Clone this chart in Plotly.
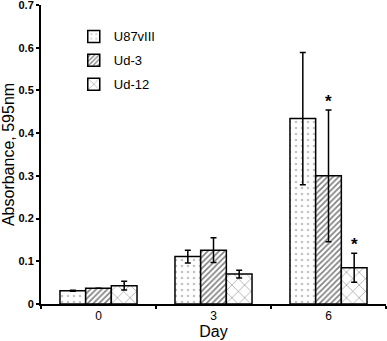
import plotly.graph_objects as go

days = ["0", "3", "6"]
series_names = ["U87vIII", "Ud-3", "Ud-12"]
u87 = [0.031, 0.111, 0.434]
u87_err = [0.001, 0.015, 0.155]
ud3 = [0.037, 0.126, 0.300]
ud3_err = [0.0, 0.029, 0.154]
ud12 = [0.043, 0.070, 0.085]
ud12_err = [0.010, 0.009, 0.034]
y_ticks = [0, 0.1, 0.2, 0.3, 0.4, 0.5, 0.6, 0.7]

patterns = [
    dict(shape=".", size=6, solidity=0.15, fgcolor="#888888", bgcolor="white"),
    dict(shape="/", size=4, solidity=0.4, fgcolor="black", bgcolor="white"),
    dict(shape="x", size=9, solidity=0.12, fgcolor="black", bgcolor="white"),
]

fig = go.Figure()
for i, (name, vals, errs) in enumerate(zip(series_names, [u87, ud3, ud12], [u87_err, ud3_err, ud12_err])):
    fig.add_trace(go.Bar(
        x=days, y=vals, name=name, legendgroup=name,
        marker=dict(color="white", line=dict(color="black", width=1.5), pattern=patterns[i]),
        error_y=dict(type="data", array=errs, visible=True, color="black", thickness=1.5, width=3),
    ))

# significance asterisks (Ud-3 and Ud-12 at day 6)
idx6 = days.index("6")
fig.add_annotation(x=idx6, xref="x", y=ud3[2] + ud3_err[2], xshift=0, yanchor="bottom", text="<b>*</b>",
                   showarrow=False, font=dict(size=17, color="black"), yshift=-3)
fig.add_annotation(x=idx6, xref="x", y=ud12[2] + ud12_err[2], xshift=25.7, yanchor="bottom", text="<b>*</b>",
                   showarrow=False, font=dict(size=17, color="black"), yshift=-3)

fig.update_layout(
    width=387, height=341,
    margin=dict(l=41, r=1, t=5, b=37, autoexpand=False),
    paper_bgcolor="white", plot_bgcolor="white",
    barmode="group", bargap=0.33, bargroupgap=0,
    font=dict(family="Liberation Sans, Arial", color="black"),
    showlegend=True,
    legend=dict(x=0.095, y=0.945, xanchor="left", yanchor="top", font=dict(size=13),
                bgcolor="rgba(0,0,0,0)", tracegroupgap=4, traceorder="grouped", itemwidth=30),
    xaxis=dict(
        type="category", range=[-0.5, 2.5], showline=True, linecolor="black", linewidth=2,
        ticks="outside", tickson="boundaries", ticklen=3, tickwidth=2, tickcolor="black",
        tickfont=dict(size=12), title=dict(text="Day", font=dict(size=16), standoff=3),
        showgrid=False, automargin=False,
    ),
    yaxis=dict(
        range=[0, 0.7], tickvals=y_ticks, ticktext=[f"{v:g}" for v in y_ticks],
        showline=True, linecolor="black", linewidth=2,
        ticks="outside", ticklen=3, tickwidth=2, tickcolor="black",
        tickfont=dict(size=11, weight="bold"), showgrid=False, zeroline=False,
        ticklabeloverflow="allow",
        title=dict(text="Absorbance, 595nm", font=dict(size=16), standoff=3),
        automargin=False,
    ),
)

fig.write_html("out.html", config={"displayModeBar": False},
               post_script="document.body.style.margin='0';")
